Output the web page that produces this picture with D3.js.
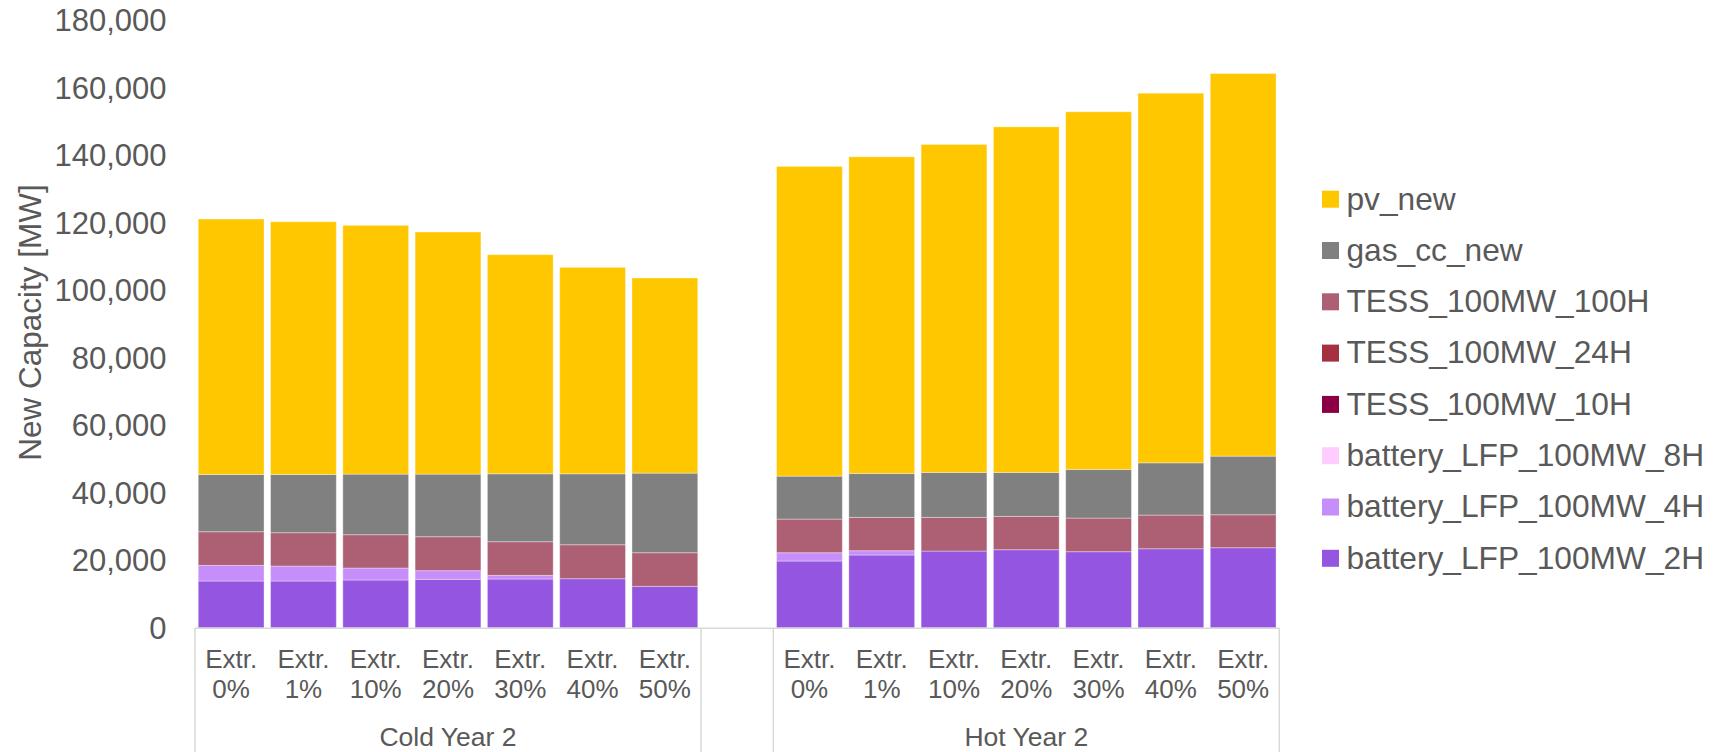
<!DOCTYPE html>
<html>
<head>
<meta charset="utf-8">
<script src="https://cdn.jsdelivr.net/npm/d3@7"></script>
<style>
  html, body { margin: 0; padding: 0; background: #fff; }
  svg { display: block; font-family: "Liberation Sans", Arial, sans-serif; }
</style>
</head>
<body>
<div id="chart"></div>
<script>
// Category structure
const groups = ["Cold Year 2", "Hot Year 2"];
const scenarios = ["Extr. 0%", "Extr. 1%", "Extr. 10%", "Extr. 20%", "Extr. 30%", "Extr. 40%", "Extr. 50%"];

// Series, bottom of stack first
const seriesNames = [
  "battery_LFP_100MW_2H", "battery_LFP_100MW_4H", "battery_LFP_100MW_8H",
  "TESS_100MW_10H", "TESS_100MW_24H", "TESS_100MW_100H", "gas_cc_new", "pv_new"
];
const seriesColors = ["#9456E0", "#C68EFA", "#FFCCFF", "#8B0045", "#A5303F", "#AD5F74", "#808080", "#FFC700"];

// Values in MW: 7 cold scenarios, then 7 hot scenarios
const battery2H  = [13860, 13860, 14160, 14360, 14450, 14550, 12280, 19780, 21560, 22740, 23140, 22550, 23430, 23730];
const battery4H  = [4640, 4440, 3550, 2570, 1090, 0, 0, 2470, 1280, 0, 0, 0, 0, 0];
const battery8H  = [0, 0, 0, 0, 0, 0, 0, 0, 0, 0, 0, 0, 0, 0];
const tess10H    = [0, 0, 0, 0, 0, 0, 0, 0, 0, 0, 0, 0, 0, 0];
const tess24H    = [0, 0, 0, 0, 0, 0, 0, 0, 0, 0, 0, 0, 0, 0];
const tess100H   = [9970, 9870, 9870, 10060, 9970, 10060, 9970, 9960, 9870, 9970, 9870, 9960, 9960, 9770];
const gasCcNew   = [16970, 17270, 17960, 18550, 20130, 21020, 23580, 12730, 13020, 13320, 13020, 14410, 15490, 17360];
const pvNew      = [75680, 74880, 73700, 71730, 64920, 61170, 57820, 91760, 93830, 97180, 102410, 105970, 109520, 113370];

const yTicks = [0, 20000, 40000, 60000, 80000, 100000, 120000, 140000, 160000, 180000];

const seriesValues = [battery2H, battery4H, battery8H, tess10H, tess24H, tess100H, gasCcNew, pvNew];

// Build rows: one per bar, plus an empty slot between the groups
let rows = [];
let domain = [];
groups.forEach((g, gi) => {
  scenarios.forEach((s, si) => {
    const key = g + "|" + s;
    const row = { key, group: g, scenario: s };
    seriesNames.forEach((name, k) => { row[name] = seriesValues[k][gi * scenarios.length + si]; });
    rows.push(row);
    domain.push(key);
  });
  if (gi < groups.length - 1) domain.push("gap" + gi);
});

const width = 1721, height = 752;
const textColor = "#595959";
const lineColor = "#D9D9D9";

const svg = d3.select("#chart").append("svg")
  .attr("width", width)
  .attr("height", height);

const x = d3.scaleBand()
  .domain(domain)
  .range([195, 1279.3])
  .paddingInner(0.09)
  .paddingOuter(0.045);

const y = d3.scaleLinear()
  .domain([0, 180000])
  .range([627.8, 20.3]);

const stack = d3.stack().keys(seriesNames);
const stacked = stack(rows);

// Bars
svg.append("g")
  .selectAll("g")
  .data(stacked)
  .join("g")
  .attr("fill", (d, i) => seriesColors[i])
  .selectAll("rect")
  .data(d => d.filter(p => p[1] - p[0] > 0))
  .join("rect")
  .attr("x", d => x(d.data.key))
  .attr("width", x.bandwidth())
  .attr("y", d => y(d[1]))
  .attr("height", d => y(d[0]) - y(d[1]))
  .attr("stroke", "#fff")
  .attr("stroke-opacity", 0.35)
  .attr("stroke-width", 1);

// Y axis labels (no axis line, no gridlines)
svg.append("g")
  .selectAll("text")
  .data(yTicks)
  .join("text")
  .attr("x", 166.5)
  .attr("y", d => y(d))
  .attr("dy", "0.36em")
  .attr("text-anchor", "end")
  .attr("font-size", 31)
  .attr("fill", textColor)
  .text(d3.format(","));

svg.append("text")
  .attr("transform", `translate(40.5,322.5) rotate(-90)`)
  .attr("text-anchor", "middle")
  .attr("font-size", 31.5)
  .attr("fill", textColor)
  .text("New Capacity [MW]");

// Category axis: baseline and group boxes
const x0 = x.range()[0], x1 = x.range()[1];
svg.append("line")
  .attr("x1", x0).attr("x2", x1)
  .attr("y1", y(0) + 0.5).attr("y2", y(0) + 0.5)
  .attr("stroke", lineColor).attr("stroke-width", 1.5);

const step = x.step();
const groupEdges = [];
groups.forEach(g => {
  const keys = rows.filter(r => r.group === g).map(r => r.key);
  const left = x(keys[0]) - x.paddingInner() * step / 2;
  const right = x(keys[keys.length - 1]) + x.bandwidth() + x.paddingInner() * step / 2;
  groupEdges.push({ g, left, right });
});

svg.append("g")
  .selectAll("line")
  .data(groupEdges.flatMap(e => [e.left, e.right]))
  .join("line")
  .attr("x1", d => d).attr("x2", d => d)
  .attr("y1", y(0)).attr("y2", height)
  .attr("stroke", lineColor).attr("stroke-width", 1.5);

// Scenario labels, two lines each
const catLabels = svg.append("g")
  .selectAll("text")
  .data(rows)
  .join("text")
  .attr("text-anchor", "middle")
  .attr("font-size", 26)
  .attr("fill", textColor);
catLabels.append("tspan")
  .attr("x", d => x(d.key) + x.bandwidth() / 2)
  .attr("y", 668)
  .text(d => d.scenario.split(" ")[0]);
catLabels.append("tspan")
  .attr("x", d => x(d.key) + x.bandwidth() / 2)
  .attr("y", 698)
  .text(d => d.scenario.split(" ")[1]);

svg.append("g")
  .selectAll("text")
  .data(groupEdges)
  .join("text")
  .attr("x", d => (d.left + d.right) / 2)
  .attr("y", 746)
  .attr("text-anchor", "middle")
  .attr("font-size", 26.5)
  .attr("fill", textColor)
  .text(d => d.g);

// Legend, top entry = top of stack
const legendOrder = seriesNames.map((n, i) => ({ name: n, color: seriesColors[i] })).reverse();
const legend = svg.append("g")
  .selectAll("g")
  .data(legendOrder)
  .join("g")
  .attr("transform", (d, i) => `translate(1322,${190.7 + i * 51.3})`);
legend.append("rect")
  .attr("width", 17).attr("height", 17)
  .attr("fill", d => d.color);
legend.append("text")
  .attr("x", 24.5)
  .attr("y", 18.8)
  .attr("font-size", 31.7)
  .attr("fill", textColor)
  .text(d => d.name);
</script>
</body>
</html>
